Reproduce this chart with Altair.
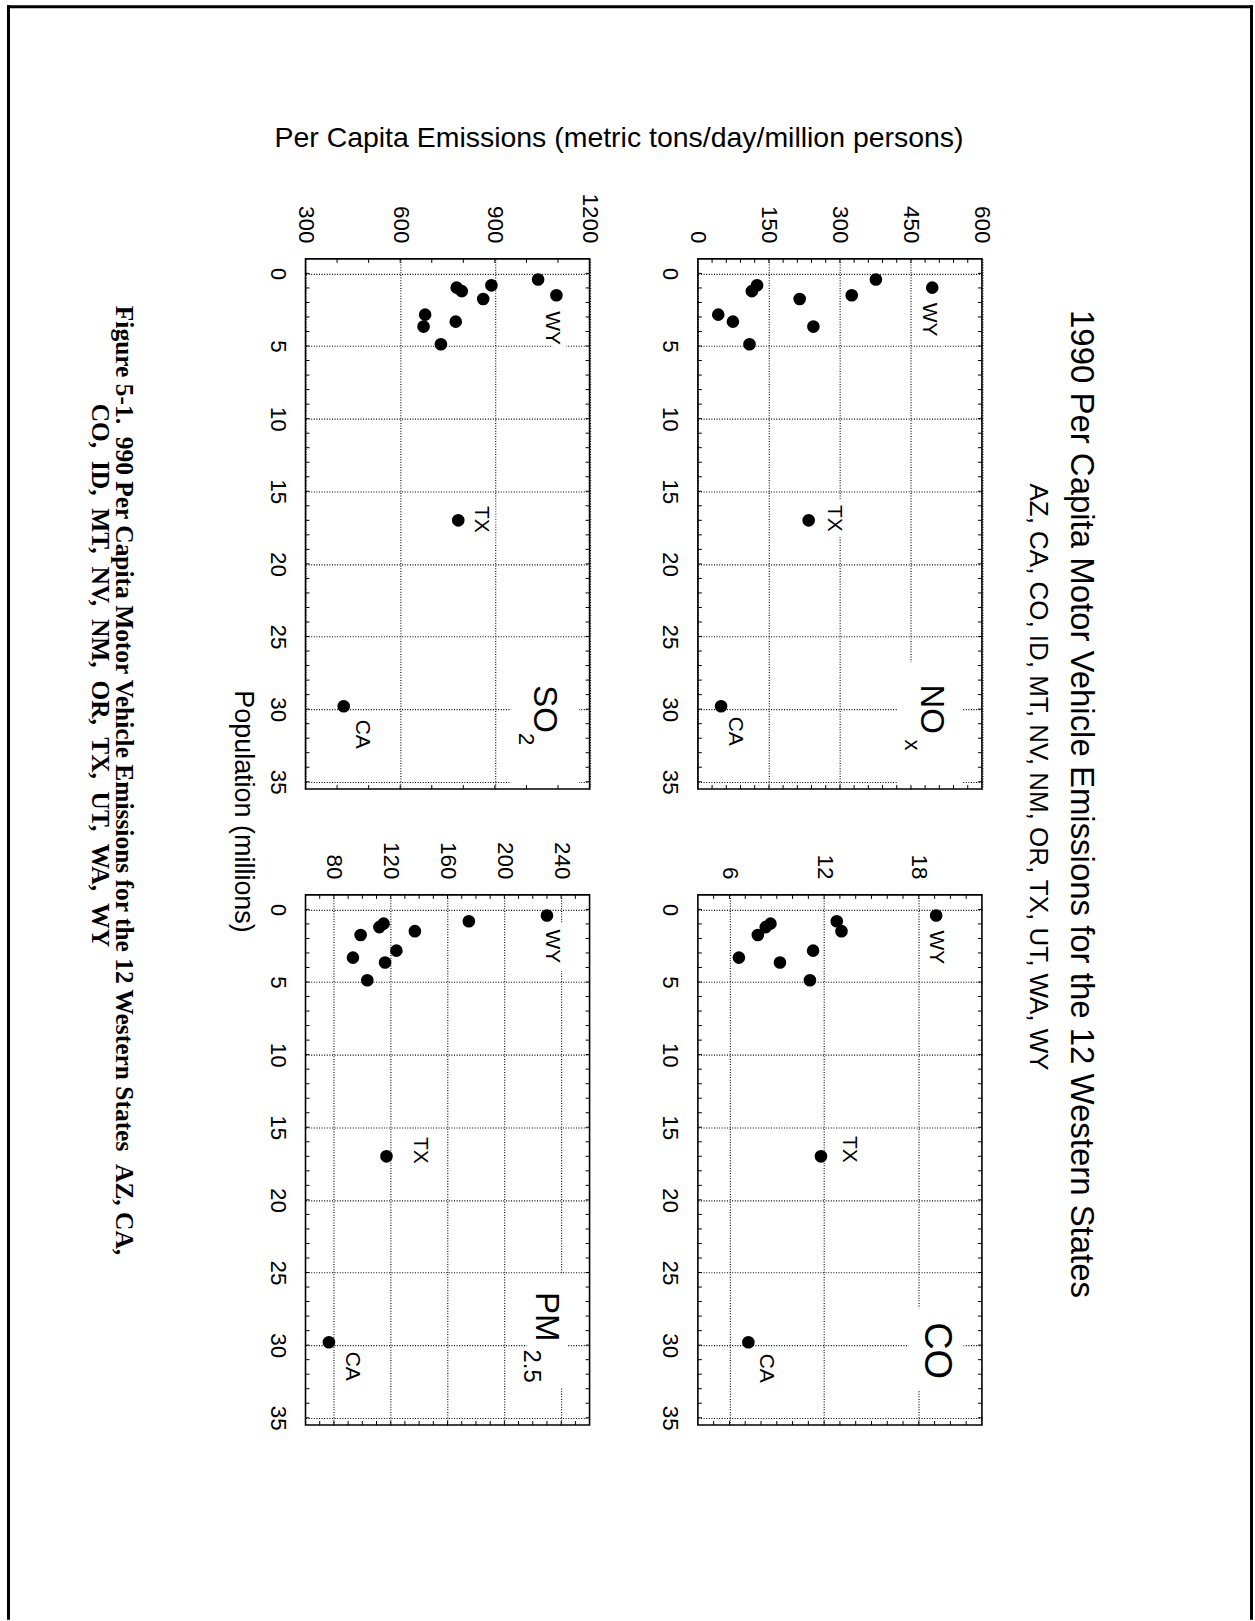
import altair as alt
import numpy as np
import pandas as pd

FONT = "Liberation Sans"
SERIF = "Liberation Serif"

# 1990 population (millions) and per capita motor vehicle emissions
# (metric tons/day/million persons) for the 12 western states
states = ["AZ", "CA", "CO", "ID", "MT", "NV", "NM", "OR", "TX", "UT", "WA", "WY"]
population = [3.66, 29.8, 3.32, 0.98, 0.82, 1.22, 1.50, 2.84, 17.0, 1.76, 4.88, 0.42]

nox = [244, 49, 74, 495, 125, 114, 325, 43, 234, 215, 109, 376]
so2 = [674, 421, 776, 779, 889, 795, 1095, 679, 784, 863, 729, 1037]
co = [9.2, 7.2, 6.6, 8.6, 12.8, 8.3, 13.1, 11.3, 11.8, 7.8, 11.1, 19.1]
pm25 = [116, 76.5, 93.4, 115, 175, 112, 137, 124, 117, 98.8, 103.5, 230]

pop_ticks = [0, 5, 10, 15, 20, 25, 30, 35]
nox_ticks = [0, 150, 300, 450, 600]
so2_ticks = [300, 600, 900, 1200]
co_ticks = [6, 12, 18]
pm_ticks = [80, 120, 160, 200, 240]

# page geometry (pixels)
PAGE_W, PAGE_H = 1255, 1621
GRID_X, GRID_Y = 302, 257.5
W, H = 284.5, 531
COL_GAP, ROW_GAP = 107, 106
LOW_X, LOW_GAP = 306, 107.5      # lower row sits slightly to the right
POP_DOMAIN = [-1, 35.5]
TICK = 4

ONE = pd.DataFrame({"k": [0]})


def line(x1, y1, x2, y2, width=3):
    return alt.Chart(ONE).mark_rule(color="black", strokeWidth=width).encode(
        x=alt.value(x1), y=alt.value(y1), x2=alt.value(x2), y2=alt.value(y2)
    )


def text(t, x, y, size, angle=90, align="center", font=FONT, weight="normal"):
    return alt.Chart(ONE).mark_text(
        text=t, angle=angle, align=align, baseline="middle", fontSize=size,
        font=font, fontWeight=weight, fill="black",
    ).encode(x=alt.value(x), y=alt.value(y))


def spacer(w, h):
    return alt.Chart(ONE).mark_point(opacity=0, size=1).encode(
        x=alt.value(w / 2), y=alt.value(h / 2)
    ).properties(width=w, height=h)


def panel(values, domain, major, minor_step, names, knock, offsets):
    df = pd.DataFrame({"state": states, "pop": population, "value": values})
    df["label"] = ""
    df.loc[df["value"].idxmax(), "label"] = "WY"
    df.loc[df["state"] == "TX", "label"] = "TX"
    df.loc[df["state"] == "CA", "label"] = "CA"

    xs = alt.Scale(domain=domain, nice=False, zero=False)
    ys = alt.Scale(domain=POP_DOMAIN, nice=False, zero=False, reverse=True)
    style = dict(grid=True, gridColor="black", gridDash=[1, 1.6], gridWidth=1.1,
                 gridOpacity=1, ticks=False, domain=False, labelFont=FONT,
                 labelFontSize=22.5, labelColor="black", labelFlush=False,
                 labelOverlap=False, format="d", title=None)
    x_axis = alt.Axis(orient="top", values=major, labelAngle=90, labelAlign="right",
                      labelBaseline="middle", labelPadding=16, **style)
    y_axis = alt.Axis(orient="left", values=pop_ticks, labelAngle=90, labelAlign="center",
                      labelBaseline="top", labelPadding=17, **style)

    def X(f):
        return alt.X(f, scale=xs, axis=x_axis, title=None)

    def Y(f):
        return alt.Y(f, scale=ys, axis=y_axis, title=None)

    layers = []
    # white box that clears the grid behind the pollutant name
    layers.append(alt.Chart(ONE).mark_rect(fill="white").encode(
        x=alt.value(knock[0]), x2=alt.value(knock[1]),
        y=alt.value(knock[2]), y2=alt.value(knock[3])))

    # inward minor ticks on all four edges
    x_minor = [float(v) for v in np.arange(domain[0], domain[1] + 1e-9, minor_step)][1:-1]
    tx = alt.Chart(pd.DataFrame({"t": x_minor}))
    ty = alt.Chart(pd.DataFrame({"t": list(range(0, 36))}))
    tick = dict(color="black", strokeWidth=1)
    layers += [
        tx.mark_rule(**tick).encode(x=X("t:Q"), y=alt.value(0), y2=alt.value(TICK)),
        tx.mark_rule(**tick).encode(x=X("t:Q"), y=alt.value(H), y2=alt.value(H - TICK)),
        ty.mark_rule(**tick).encode(y=Y("t:Q"), x=alt.value(0), x2=alt.value(TICK)),
        ty.mark_rule(**tick).encode(y=Y("t:Q"), x=alt.value(W), x2=alt.value(W - TICK)),
    ]

    # state labels, with a white halo that interrupts the grid
    halos, labels = [], []
    for lbl, (sx, sy) in offsets.items():
        sub = alt.Chart(df).transform_filter(alt.datum.label == lbl)
        common = dict(angle=90, align="center", baseline="middle", fontSize=21,
                      font=FONT, dx=sy, dy=-sx)
        enc = dict(x=X("value:Q"), y=Y("pop:Q"), text="label:N")
        halos.append(sub.mark_text(fill="white", stroke="white", strokeWidth=12,
                                   **common).encode(**enc))
        labels.append(sub.mark_text(fill="black", **common).encode(**enc))
    layers += halos

    layers.append(alt.Chart(df).mark_circle(size=160, color="black", opacity=1).encode(
        x=X("value:Q"), y=Y("pop:Q")))
    layers += labels

    for t, x, y, size in names:
        layers.append(text(t, x, y, size))

    return alt.layer(*layers).properties(
        width=W, height=H,
        view=alt.ViewBackground(stroke="black", strokeWidth=1.6),
    )


nox_panel = panel(nox, [0, 600], nox_ticks, 30,
                  [("NO", 233.5, 451, 33), ("x", 214.5, 487, 22)],
                  (200, 265, 404, 529),
                  {"WY": (-3, 32), "TX": (25, -2), "CA": (14, 25)})
so2_panel = panel(so2, [300, 1200], so2_ticks, 100,
                  [("SO", 238.5, 451, 33), ("2", 221, 481, 22)],
                  (206, 274, 404, 529),
                  {"WY": (-4, 33), "TX": (23, -1), "CA": (18, 28)})
co_panel = panel(co, [4, 22], co_ticks, 1,
                 [("CO", 238, 456.5, 38)],
                 (211, 266, 414, 497),
                 {"WY": (0, 32), "TX": (28, -7), "CA": (18, 26)})
pm_panel = panel(pm25, [60, 260], pm_ticks, 10,
                 [("PM", 241, 422.5, 33), ("2.5", 226, 472, 24)],
                 (222, 262, 380, 493),
                 {"WY": (5, 31), "TX": (34, -6), "CA": (23, 24)})

# page furniture: border, titles and caption, laid out in page coordinates
NBSP = "\u00a0"
page = alt.layer(
    line(7, 5.5, PAGE_W, 5.5),
    line(8.5, 4, 8.5, PAGE_H),
    line(PAGE_W - 1.5, 4, PAGE_W - 1.5, PAGE_H),
    text("Per Capita Emissions (metric tons/day/million persons)", 620, 137, 28.5, angle=0),
    text("1990 Per Capita Motor Vehicle Emissions for the 12 Western States", 1083, 804, 33),
    text("AZ, CA, CO, ID, MT, NV, NM, OR, TX, UT, WA, WY", 1040, 777, 26),
    text("Population (millions)", 243, 811.5, 27),
    text(f"Figure 5-1.{NBSP}{NBSP}990 Per Capita Motor Vehicle Emissions for the 12 Western States{NBSP}{NBSP}AZ, CA,",
         124, 305, 25.5, align="left", font=SERIF, weight="bold"),
    text(f",{NBSP} ".join(["CO", "ID", "MT", "NV", "NM", "OR", "TX", "UT", "WA", "WY"]),
         100, 403, 25.5, align="left", font=SERIF, weight="bold"),
).properties(width=GRID_X, height=GRID_Y)

cells = [
    page, spacer(W, GRID_Y), spacer(COL_GAP, GRID_Y), spacer(W, GRID_Y),
    spacer(GRID_X, H), so2_panel, spacer(COL_GAP, H), nox_panel,
    spacer(GRID_X, ROW_GAP), spacer(W, ROW_GAP), spacer(COL_GAP, ROW_GAP), spacer(W, ROW_GAP),
    spacer(LOW_X, H), pm_panel, spacer(LOW_GAP, H), co_panel,
]

chart = alt.concat(*cells, columns=4, spacing=0, bounds="flush", align="none").properties(
    padding=0
).configure_view(stroke="transparent", strokeWidth=0)

chart.save("out.html", embed_options={"renderer": "svg", "actions": False})
